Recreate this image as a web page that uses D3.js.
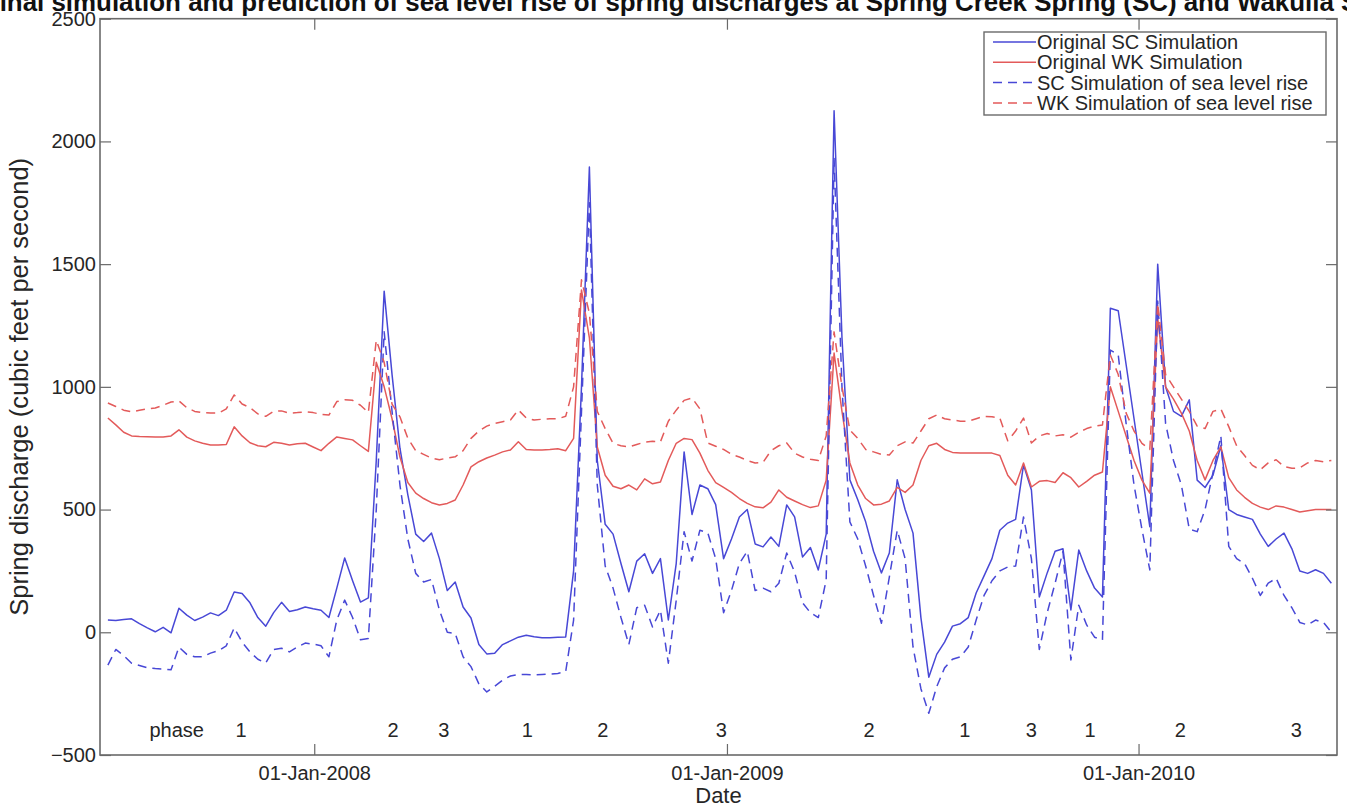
<!DOCTYPE html>
<html>
<head>
<meta charset="utf-8">
<script src="https://cdn.jsdelivr.net/npm/d3@7"></script>
<style>
  body { margin: 0; background: #fff; }
  text { font-family: "Liberation Sans", Arial, Helvetica, sans-serif; }
</style>
</head>
<body>
<svg id="chart"></svg>
<script>
// weekly simulation steps (Mondays), Jul 2007 - Jun 2010
const weeks = d3.timeMonday.range(new Date(2007, 6, 2), new Date(2010, 5, 22))

// Original SC simulation (cfs)
const scOriginal = [
  50, 48, 52, 55, 35, 18, 2, 20, -2, 98, 70, 48, 62, 79, 68, 90, 164, 158, 120, 60,
  25, 80, 122, 85, 92, 103, 96, 90, 60, 180, 303, 210, 123, 140, 700, 1390, 1050, 750, 560, 400,
  370, 404, 300, 170, 205, 103, 58, -50, -88, -85, -50, -35, -20, -12, -18, -22, -22, -20, -19, 250,
  1000, 1896, 700, 440, 400, 280, 165, 290, 320, 240, 300, 50, 280, 735, 480, 600, 585, 520, 300, 380,
  470, 500, 360, 348, 388, 350, 519, 470, 307, 345, 254, 400, 2125, 1200, 621, 540, 450, 330, 242, 323,
  621, 500, 404, 60, -183, -90, -40, 25, 35, 60, 160, 230, 300, 416, 445, 460, 682, 580, 144, 242,
  330, 340, 91, 335, 250, 180, 144, 1320, 1310, 1090, 870, 650, 430, 1500, 1000, 900, 880, 947, 620, 590,
  640, 760, 500, 480, 470, 460, 400, 350, 380, 404, 340, 250, 240, 255, 240, 200
]

// Original WK simulation (cfs)
const wkOriginal = [
  873, 845, 815, 800, 798, 797, 796, 796, 800, 825, 795, 780, 770, 763, 763, 765, 837, 800, 772, 760,
  756, 774, 770, 763, 768, 770, 755, 740, 770, 796, 790, 784, 760, 737, 1100, 1000, 870, 714, 610, 567,
  545, 528, 519, 525, 539, 600, 674, 695, 710, 722, 735, 743, 776, 745, 743, 743, 745, 748, 740, 790,
  1395, 1200, 755, 640, 595, 585, 600, 580, 625, 605, 612, 700, 770, 790, 785, 730, 660, 610, 590, 570,
  545, 525, 511, 507, 530, 580, 550, 535, 520, 508, 515, 620, 1138, 900, 690, 600, 545, 519, 522, 535,
  590, 570, 600, 700, 760, 770, 745, 733, 730, 730, 730, 730, 730, 720, 640, 600, 690, 592, 615, 618,
  610, 650, 630, 592, 615, 640, 653, 1000, 900, 800, 700, 620, 567, 1280, 1000, 950, 893, 820, 700, 621,
  700, 755, 630, 580, 550, 525, 510, 500, 515, 510, 500, 490, 495, 500, 500, 500
]

// SC simulation of sea level rise (cfs)
const scSeaRise = [
  -134, -70, -95, -126, -135, -145, -148, -150, -153, -60, -90, -100, -100, -85, -75, -55, 18, -40, -80, -110,
  -125, -70, -65, -80, -60, -44, -48, -55, -100, 50, 131, 60, -30, -25, 500, 1224, 900, 600, 380, 240,
  205, 215, 90, 0, -5, -100, -140, -210, -243, -220, -195, -178, -172, -172, -174, -172, -170, -168, -160, 50,
  900, 1750, 600, 270, 180, 60, -50, 100, 110, 22, 90, -126, 130, 410, 290, 416, 405, 300, 80, 170,
  280, 330, 170, 180, 165, 200, 323, 245, 120, 80, 60, 213, 1930, 1000, 450, 380, 270, 150, 37, 225,
  416, 300, -60, -230, -330, -222, -145, -110, -100, -60, 50, 150, 210, 250, 266, 270, 470, 300, -70, 80,
  200, 330, -113, 110, 30, -20, -31, 1150, 1130, 850, 600, 420, 254, 1350, 850, 700, 600, 420, 410, 500,
  650, 800, 350, 300, 280, 220, 150, 200, 220, 150, 100, 40, 30, 50, 40, 0
]

// WK simulation of sea level rise (cfs)
const wkSeaRise = [
  934, 920, 905, 898, 905, 910, 914, 925, 938, 943, 915, 900, 895, 893, 893, 910, 967, 930, 915, 890,
  880, 900, 902, 893, 895, 898, 895, 888, 885, 940, 947, 945, 925, 895, 1190, 1100, 930, 878, 790, 740,
  725, 710, 703, 710, 715, 740, 790, 820, 840, 851, 858, 865, 906, 873, 865, 868, 870, 870, 880, 1000,
  1436, 1300, 900, 830, 770, 760, 755, 765, 775, 778, 776, 860, 905, 945, 955, 910, 771, 758, 745, 725,
  714, 700, 690, 692, 740, 760, 771, 730, 714, 705, 700, 800, 1224, 1000, 824, 790, 745, 735, 725, 722,
  760, 776, 771, 820, 870, 885, 870, 865, 860, 860, 870, 880, 878, 873, 780, 820, 873, 771, 800, 810,
  800, 805, 795, 815, 830, 840, 845, 1130, 1050, 893, 820, 770, 745, 1340, 1050, 1000, 950, 900, 840, 830,
  900, 910, 838, 760, 720, 680, 662, 690, 703, 675, 668, 670, 690, 700, 695, 700
]

const seriesNames = ['Original SC Simulation', 'Original WK Simulation',
  'SC Simulation of sea level rise', 'WK Simulation of sea level rise']

const yTicks = [-500, 0, 500, 1000, 1500, 2000, 2500]
const xTickDates = [new Date(2008, 0, 1), new Date(2009, 0, 1), new Date(2010, 0, 1)]

// "phase" annotations along the bottom of the plot
const phaseLabels = ['phase', '1', '2', '3', '1', '2', '3', '2', '1', '3', '1', '2', '3']
const phaseDates = ['2007-09-01', '2007-10-28', '2008-03-11', '2008-04-25', '2008-07-08', '2008-09-13',
  '2008-12-27', '2009-05-07', '2009-07-31', '2009-09-28', '2009-11-19', '2010-02-07', '2010-05-21']
const phaseValue = -400

const titleText = 'Original simulation and prediction of sea level rise of spring discharges at Spring Creek Spring (SC) and Wakulla Spring (WK)'

const width = 1347, height = 805
const margin = {top: 18.7, right: 10, bottom: 50, left: 100}
const plotW = width - margin.left - margin.right
const plotH = height - margin.top - margin.bottom

const blue = '#4848d6', red = '#e35a5a', axisColor = '#6a6a6a', textColor = '#262626'

const svg = d3.select('#chart').attr('width', width).attr('height', height)
svg.append('rect').attr('width', width).attr('height', height).attr('fill', '#fff')

const x = d3.scaleTime()
  .domain([new Date(2007, 5, 25), new Date(2010, 5, 26)])
  .range([margin.left, margin.left + plotW])
const y = d3.scaleLinear().domain([-500, 2500]).range([margin.top + plotH, margin.top])

const parse = d3.timeParse('%Y-%m-%d')

// lines
const series = [
  {values: scOriginal, color: blue, dash: null},
  {values: wkOriginal, color: red, dash: null},
  {values: scSeaRise, color: blue, dash: '9,6'},
  {values: wkSeaRise, color: red, dash: '9,6'}
]

const line = d3.line().x(d => x(d.date)).y(d => y(d.value))

svg.append('defs').append('clipPath').attr('id', 'plotClip')
  .append('rect').attr('x', margin.left).attr('y', margin.top).attr('width', plotW).attr('height', plotH)

// title first so the axis labels sit on top of it (it is wider than the figure, as in the original)
svg.append('text')
  .attr('x', margin.left + plotW / 2)
  .attr('y', 11)
  .attr('text-anchor', 'middle')
  .attr('fill', '#111')
  .style('font-size', '25.9px')
  .style('font-weight', 'bold')
  .text(titleText)

const plot = svg.append('g').attr('clip-path', 'url(#plotClip)')
series.forEach(s => {
  const pts = weeks.map((d, i) => ({date: d, value: s.values[i]}))
  plot.append('path')
    .datum(pts)
    .attr('d', line)
    .attr('fill', 'none')
    .attr('stroke', s.color)
    .attr('stroke-width', 1.5)
    .attr('stroke-linejoin', 'round')
    .attr('stroke-dasharray', s.dash)
})

// axes (MATLAB style: box, ticks inside)
const tickLen = 11
const styleAxis = g => {
  g.select('.domain').remove()
  g.selectAll('.tick line').attr('stroke', axisColor).attr('stroke-width', 1.2)
  g.selectAll('.tick text').attr('fill', textColor).style('font-size', '20px')
}

svg.append('g')
  .attr('transform', `translate(0,${margin.top + plotH})`)
  .call(d3.axisBottom(x).tickValues(xTickDates).tickSize(-tickLen).tickPadding(11)
    .tickFormat(d3.timeFormat('%d-%b-%Y')))
  .call(styleAxis)

svg.append('g')
  .attr('transform', `translate(0,${margin.top})`)
  .call(d3.axisTop(x).tickValues(xTickDates).tickSize(-tickLen).tickFormat(''))
  .call(styleAxis)

svg.append('g')
  .attr('transform', `translate(${margin.left},0)`)
  .call(d3.axisLeft(y).tickValues(yTicks).tickSize(-tickLen).tickPadding(4).tickFormat(d3.format('d')))
  .call(styleAxis)

svg.append('g')
  .attr('transform', `translate(${margin.left + plotW},0)`)
  .call(d3.axisRight(y).tickValues(yTicks).tickSize(-tickLen).tickFormat(''))
  .call(styleAxis)

svg.append('rect')
  .attr('x', margin.left).attr('y', margin.top)
  .attr('width', plotW).attr('height', plotH)
  .attr('fill', 'none').attr('stroke', axisColor).attr('stroke-width', 1.6)

// phase labels
svg.append('g').selectAll('text')
  .data(phaseLabels)
  .join('text')
    .attr('x', (d, i) => x(parse(phaseDates[i])))
    .attr('y', y(phaseValue))
    .attr('dy', '0.35em')
    .attr('text-anchor', 'middle')
    .attr('fill', textColor)
    .style('font-size', '20px')
    .text(d => d)

// axis titles
svg.append('text')
  .attr('x', margin.left + plotW / 2)
  .attr('y', 803)
  .attr('text-anchor', 'middle')
  .attr('fill', textColor)
  .style('font-size', '22px')
  .text('Date')

svg.append('text')
  .attr('transform', `translate(28,${margin.top + plotH / 2}) rotate(-90)`)
  .attr('text-anchor', 'middle')
  .attr('fill', textColor)
  .style('font-size', '25.5px')
  .text('Spring discharge (cubic feet per second)')

// legend
const legend = svg.append('g')
legend.append('rect')
  .attr('x', 984).attr('y', 32).attr('width', 342).attr('height', 83)
  .attr('fill', '#fff').attr('stroke', axisColor).attr('stroke-width', 1.4)

const rows = legend.selectAll('g.row')
  .data(seriesNames)
  .join('g')
    .attr('class', 'row')
    .attr('transform', (d, i) => `translate(0,${42 + i * 20.3})`)

rows.append('line')
  .attr('x1', 993).attr('x2', 1036)
  .attr('stroke', (d, i) => series[i].color)
  .attr('stroke-width', 1.5)
  .attr('stroke-dasharray', (d, i) => series[i].dash)

rows.append('text')
  .attr('x', 1037)
  .attr('dy', '0.35em')
  .attr('fill', textColor)
  .style('font-size', '20px')
  .text(d => d)
</script>
</body>
</html>
